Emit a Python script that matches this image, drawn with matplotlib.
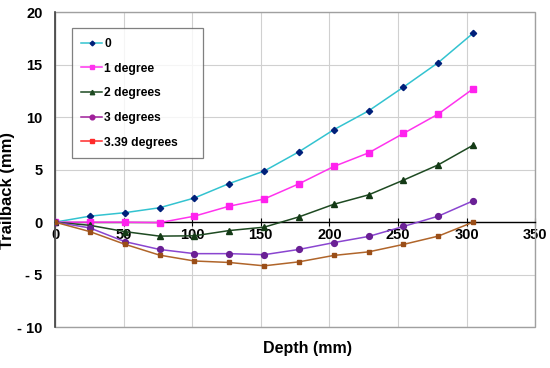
import matplotlib
matplotlib.use('Agg')
import matplotlib.pyplot as plt
from matplotlib.lines import Line2D
from matplotlib.patches import Rectangle

plt.rcParams['font.family'] = ['Liberation Sans', 'DejaVu Sans']
plt.rcParams['font.weight'] = 'bold'

depth = [0, 25.4, 50.8, 76.2, 101.6, 127, 152.4, 177.8, 203.2, 228.6, 254, 279.4, 304.8]
trail_0 = [0, 0.57, 0.9, 1.37, 2.3, 3.68, 4.86, 6.7, 8.8, 10.6, 12.86, 15.2, 18.0]
trail_1 = [0, 0.0, 0.0, -0.05, 0.57, 1.52, 2.2, 3.65, 5.3, 6.6, 8.45, 10.3, 12.7]
trail_2 = [0, -0.3, -0.9, -1.33, -1.3, -0.8, -0.48, 0.5, 1.7, 2.6, 4.0, 5.46, 7.33]
trail_3 = [0, -0.55, -1.85, -2.6, -3.0, -3.0, -3.1, -2.6, -1.95, -1.36, -0.41, 0.57, 2.03]
trail_339 = [0, -0.9, -2.1, -3.14, -3.7, -3.84, -4.16, -3.78, -3.17, -2.83, -2.12, -1.33, 0.0]
labels = ['0', '1 degree', '2 degrees', '3 degrees', '3.39 degrees']

# line colour, marker colour, marker, marker size, legend colour
styles = [
    ('#33C3D0', '#00207A', 'D', 3.2, '#33C3D0'),
    ('#FF33EE', '#FF22EE', 's', 4.2, '#FF33EE'),
    ('#1E4A22', '#143A16', '^', 4.0, '#1E4A22'),
    ('#8A45D0', '#6A2095', 'o', 4.2, '#A0209A'),
    ('#B0652A', '#9A4E18', 's', 3.2, '#FF2A2A'),
]
series = [trail_0, trail_1, trail_2, trail_3, trail_339]

fig = plt.figure(figsize=(5.5, 3.68), dpi=100)
ax = fig.add_axes([0.1, 0.111, 0.873, 0.856])

handles = []
for vals, lab, (lc, mc, mk, ms, legc) in zip(series, labels, styles):
    ax.plot(depth, vals, color=lc, lw=1.1, marker=mk, ms=ms,
            mfc=mc, mec=mc, zorder=3)
    # legend keys use the colours of the original legend
    hm = '#00207A' if mk == 'D' else legc
    handles.append(Line2D([], [], color=legc, lw=1.1, marker=mk, ms=ms - 0.8,
                          mfc=hm, mec=hm))

ax.set_xlim(0, 350)
ax.set_ylim(-10, 20)
ax.set_xticks(range(0, 351, 50))
ax.set_yticks(range(-10, 21, 5))
ax.set_yticklabels([('- ' + str(abs(v))) if v < 0 else str(v) for v in range(-10, 21, 5)])
ax.grid(True, color='#D0D0D0', lw=0.8)
ax.set_axisbelow(True)

# x axis sits at y = 0, box drawn in grey
ax.spines['bottom'].set_position(('data', 0))
ax.spines['bottom'].set_color('black')
ax.spines['bottom'].set_linewidth(1.0)
ax.spines['left'].set_color('#404040')
ax.spines['left'].set_linewidth(1.2)
for s in ['top', 'right']:
    ax.spines[s].set_visible(False)
ax.add_patch(Rectangle((0, 0), 1, 1, transform=ax.transAxes, fill=False,
                       ec='#A0A0A0', lw=1.0, zorder=1, clip_on=False))

ax.tick_params(axis='x', direction='inout', length=6, pad=1, labelsize=10.5)
ax.tick_params(axis='y', length=0, pad=9, labelsize=10.5)

ax.set_xlabel('Depth (mm)', fontsize=11.5, fontweight='bold')
ax.xaxis.set_label_coords(0.525, -0.045)
ax.set_ylabel('Trailback (mm)', fontsize=12, fontweight='bold')
ax.yaxis.set_label_coords(-0.083, 0.435)

leg = ax.legend(handles, labels, loc='upper left', mode='expand',
                bbox_to_anchor=(0.035, 0.0, 0.273, 0.949),
                fontsize=8.7, frameon=True, fancybox=False, edgecolor='#606060',
                labelspacing=1.05, handlelength=1.7, handletextpad=0.2,
                borderpad=0.8, borderaxespad=0.0)
leg.get_frame().set_linewidth(0.9)
for t in leg.get_texts():
    t.set_fontweight('bold')

fig.savefig('out.png', dpi=100)
